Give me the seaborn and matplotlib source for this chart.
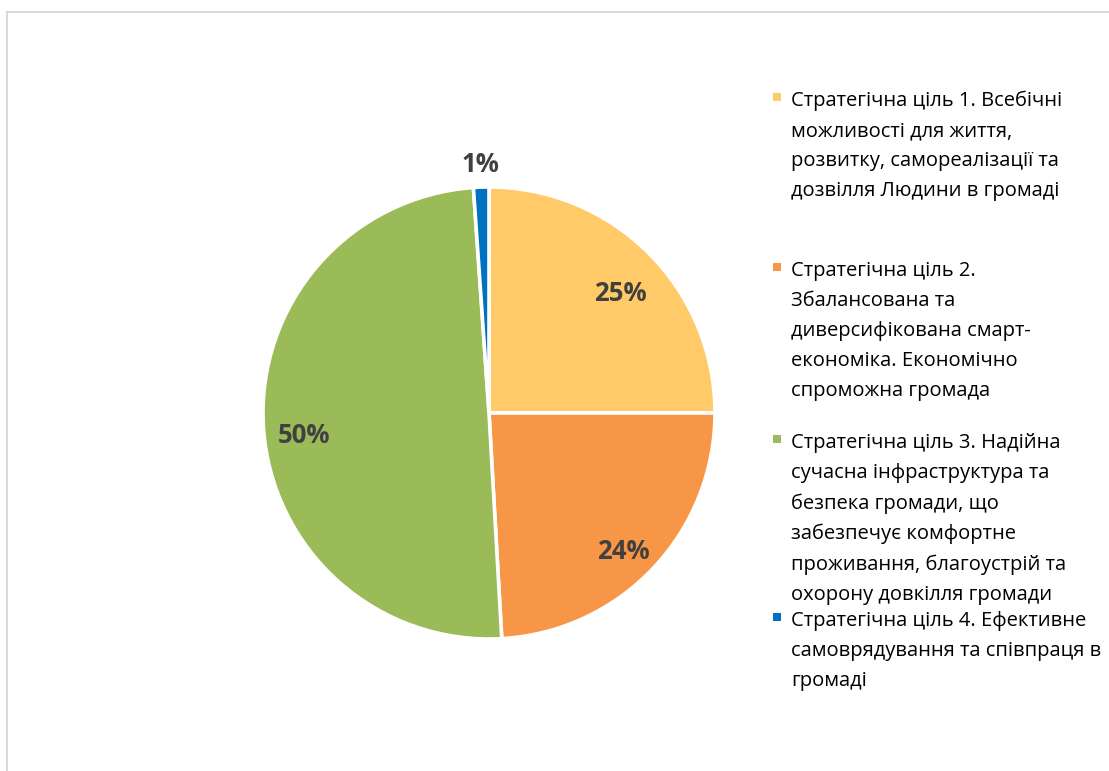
import numpy as np
import matplotlib
matplotlib.use("Agg")
import matplotlib.pyplot as plt
import seaborn as sns

labels = [
    "Стратегічна ціль 1. Всебічні\nможливості для життя,\nрозвитку, самореалізації та\nдозвілля Людини в громаді",
    "Стратегічна ціль 2.\nЗбалансована та\nдиверсифікована смарт-\nекономіка. Економічно\nспроможна громада",
    "Стратегічна ціль 3. Надійна\nсучасна інфраструктура та\nбезпека громади, що\nзабезпечує комфортне\nпроживання, благоустрій та\nохорону довкілля громади",
    "Стратегічна ціль 4. Ефективне\nсамоврядування та співпраця в\nгромаді",
]
values = [25.0, 24.1, 49.8, 1.1]
pct_labels = ["25%", "24%", "50%", "1%"]
colors = ["#FFCA67", "#F79646", "#9BBB59", "#0070C0"]

sns.set_theme(style="white")
plt.rcParams['font.family'] = ['Open Sans', 'DejaVu Sans']

W, H = 1109, 771
fig = plt.figure(figsize=(W / 100, H / 100), dpi=100)
fig.patch.set_facecolor("white")

# light frame (top and left visible)
frame = plt.Rectangle((7 / W, -0.1), 1.2, (H - 12) / H + 0.1, transform=fig.transFigure,
                      fill=False, edgecolor="#D9D9D9", linewidth=1.5)
fig.patches.append(frame)

cx, cy, r = 489, 413, 226
ax = fig.add_axes([(cx - r) / W, (H - cy - r) / H, 2 * r / W, 2 * r / H])
wedges, _ = ax.pie(values, colors=colors, startangle=90, counterclock=False,
                   wedgeprops=dict(edgecolor="white", linewidth=2.6))
ax.set_xlim(-1, 1)
ax.set_ylim(-1, 1)
ax.set_aspect("equal")
ax.axis("off")

for w, lab, v in zip(wedges, pct_labels, values):
    theta = np.deg2rad((w.theta1 + w.theta2) / 2)
    d = 1.10 if v < 3 else 0.82
    ax.text(d * np.cos(theta), d * np.sin(theta) - (0 if v < 3 else 0.05), lab,
            ha="center", va="center",
            fontsize=18.5, fontweight="bold", color="#404040")

# legend (layout: pixel centre of each entry's first line)
legend_rows = [100, 270, 442, 620]
for lab, col, c in zip(labels, colors, legend_rows):
    fig.patches.append(plt.Rectangle((773 / W, 1 - (c + 1) / H), 8 / W, 8 / H,
                                     transform=fig.transFigure, facecolor=col,
                                     edgecolor="none"))
    fig.text(791 / W, 1 - (c - 9) / H, lab, ha="left", va="top",
             fontsize=14.5, color="#000000", linespacing=1.66)

fig.savefig("out.png", dpi=100, facecolor="white")
